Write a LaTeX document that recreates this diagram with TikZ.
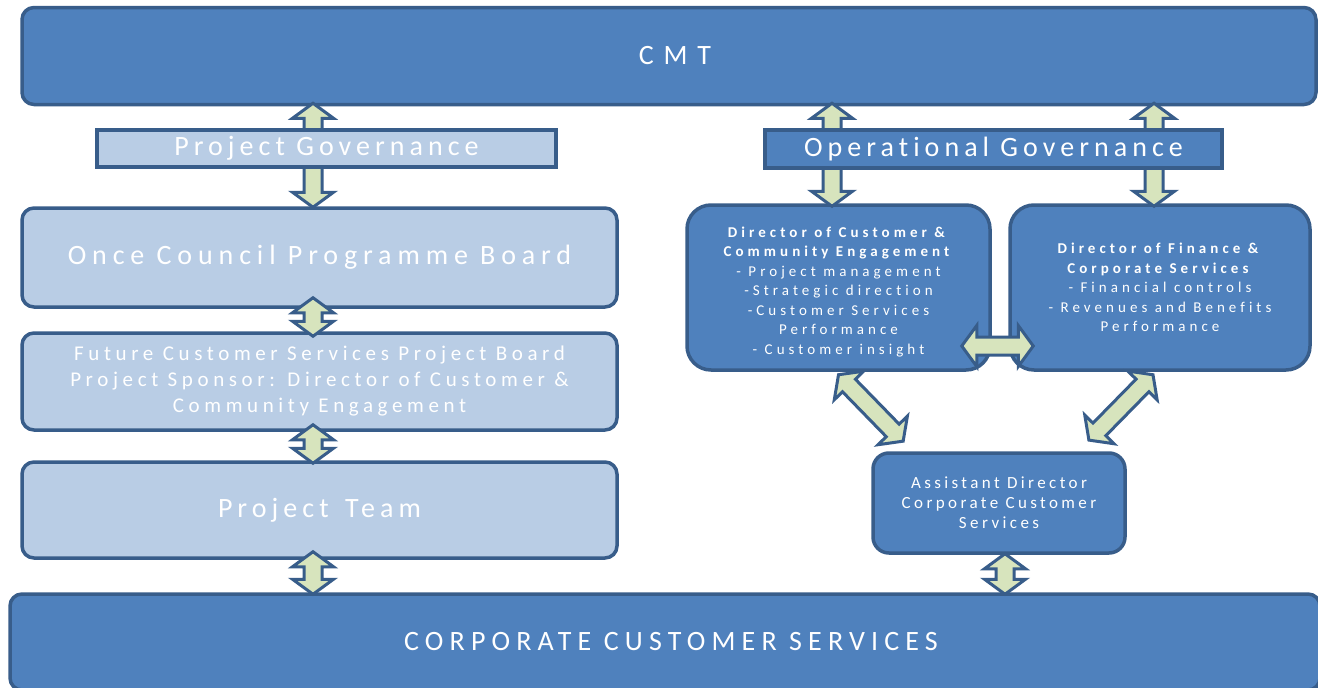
\documentclass[tikz,border=0pt]{standalone}
\usepackage{fontspec}
\setmainfont{Carlito}[Ligatures=NoCommon]
\usetikzlibrary{calc}
\definecolor{dfill}{HTML}{4F81BD}
\definecolor{lfill}{HTML}{B9CDE5}
\definecolor{bord}{HTML}{385D8A}
\definecolor{afill}{HTML}{D7E4BD}
\pgfdeclarelayer{bg}\pgfdeclarelayer{fg}\pgfsetlayers{bg,main,fg}
\newcommand\fs[3]{\fontsize{#1}{#2}\selectfont\addfontfeatures{LetterSpace=#3}}
\def\ah{15pt}\def\aW{20.5pt}\def\aw{9pt}
\newcommand\dbarr[2]{%
  \path #1 coordinate (arA) #2 coordinate (arB);
  \pgfmathanglebetweenpoints{\pgfpointanchor{arA}{center}}{\pgfpointanchor{arB}{center}}%
  \let\arang\pgfmathresult
  \path let \p1=($(arB)-(arA)$), \n1={veclen(\x1,\y1)} in \pgfextra{\xdef\arlen{\n1}};
  \begin{scope}[shift={(arA)},rotate=\arang]
    \draw[dblarrow] (0pt,0pt) -- (\ah,\aW) -- (\ah,\aw) -- ({\arlen-\ah},\aw)
      -- ({\arlen-\ah},\aW) -- (\arlen,0pt) -- ({\arlen-\ah},-\aW)
      -- ({\arlen-\ah},-\aw) -- (\ah,-\aw) -- (\ah,-\aW) -- cycle;
  \end{scope}}
\begin{document}
\begin{tikzpicture}[x=1pt,y=-1pt,
  box/.style={draw=bord, line width=3.5pt, rounded corners=12pt, text=white, inner sep=0pt, align=center},
  darkbox/.style={box, fill=dfill},
  lightbox/.style={box, fill=lfill},
  govbox/.style={box, rounded corners=0pt},
  dirbox/.style={darkbox, rounded corners=24pt},
  dblarrow/.style={draw=bord, fill=afill, line width=3pt, line join=miter}]
\useasboundingbox (0,0) rectangle (1318,688);
\begin{pgfonlayer}{bg}
\fill[white] (0,0) rectangle (1318,688);
\node[darkbox, minimum width=1294pt, minimum height=97pt, font=\fs{28}{32}{35}] (cmt) at (669,56) {\hspace*{12pt}CMT};
\node[lightbox, minimum width=595pt, minimum height=99pt, font=\fs{28}{32}{21}] (ocpb) at (319.5,257.5) {Once Council Programme Board};
\node[lightbox, minimum width=595pt, minimum height=97pt, font=\fs{21}{26}{22}] (fcs) at (319.5,381.5) {Future Customer Services Project Board\\Project Sponsor: Director of Customer \&\\Community Engagement};
\node[lightbox, minimum width=595pt, minimum height=96pt, font=\fs{28}{32}{18}] (pt) at (319.5,510) {Project\hspace{5pt} Team};
\node[darkbox, minimum width=1310pt, minimum height=96pt, font=\fs{28}{32}{22}] (ccs) at (665,642) {\hspace*{12pt}CORPORATE CUSTOMER SERVICES};
\node[dirbox, minimum width=303pt, minimum height=165pt, font=\fs{15}{19.5}{27}] (dce) at (838.5,287.5) {\rule{0pt}{19pt}\textbf{Director of Customer \&}\\\textbf{Community Engagement}\\- Project management\\-Strategic direction\\-Customer Services\\Performance\\- Customer insight};
\node[dirbox, minimum width=300pt, minimum height=165pt, font=\fs{15}{19.5}{27}] (dfc) at (1160,287.5) {\textbf{Director of Finance \&}\\\textbf{Corporate Services}\\- Financial controls\\- Revenues and Benefits\\Performance};
\node[darkbox, rounded corners=16pt, minimum width=252pt, minimum height=100pt, font=\fs{17}{20}{20}] (ad) at (999,503) {Assistant Director\\Corporate Customer\\Services};
\end{pgfonlayer}
\begin{pgfonlayer}{fg}
\node[govbox, fill=lfill, minimum width=459pt, minimum height=37pt, font=\fs{28}{32}{18}] (pg) at (326.5,148.5) {Project Governance};
\node[govbox, fill=dfill, minimum width=457pt, minimum height=38pt, font=\fs{28}{32}{18}] (og) at (993.5,149) {Operational Governance};
\end{pgfonlayer}
\coordinate (lx) at (313,0);
\coordinate (rxa) at (832,0);
\coordinate (rxb) at (1154,0);
\coordinate (hy) at (0,346);
\dbarr{($(lx |- cmt.south)+(0,-3)$)}{(lx |- pg.center)}
\dbarr{(lx |- pg.center)}{($(lx |- ocpb.north)+(0,1)$)}
\dbarr{($(lx |- ocpb.south)+(0,-11)$)}{($(lx |- fcs.north)+(0,5)$)}
\dbarr{($(lx |- fcs.south)+(0,-7)$)}{($(lx |- pt.north)+(0,3)$)}
\dbarr{($(lx |- pt.south)+(0,-8)$)}{($(lx |- ccs.north)+(0,2)$)}
\dbarr{($(rxa |- cmt.south)+(0,-3)$)}{(rxa |- og.center)}
\dbarr{(rxa |- og.center)}{($(rxa |- dce.north)+(0,3)$)}
\dbarr{($(rxb |- cmt.south)+(0,-3)$)}{(rxb |- og.center)}
\dbarr{(rxb |- og.center)}{($(rxb |- dfc.north)+(0,3)$)}
\dbarr{($(dce.east |- hy)+(-30,0)$)}{($(dfc.west |- hy)+(25,0)$)}
\dbarr{($(dce.south)+(0,3)$)}{($(ad.north west)+(32,-10)$)}
\dbarr{($(dfc.south)+(-7,3)$)}{($(ad.north east)+(-38,-11)$)}
\dbarr{($(ad.south)+(6,-1)$)}{($(ad.south |- ccs.north)+(6,2)$)}
\end{tikzpicture}
\end{document}
